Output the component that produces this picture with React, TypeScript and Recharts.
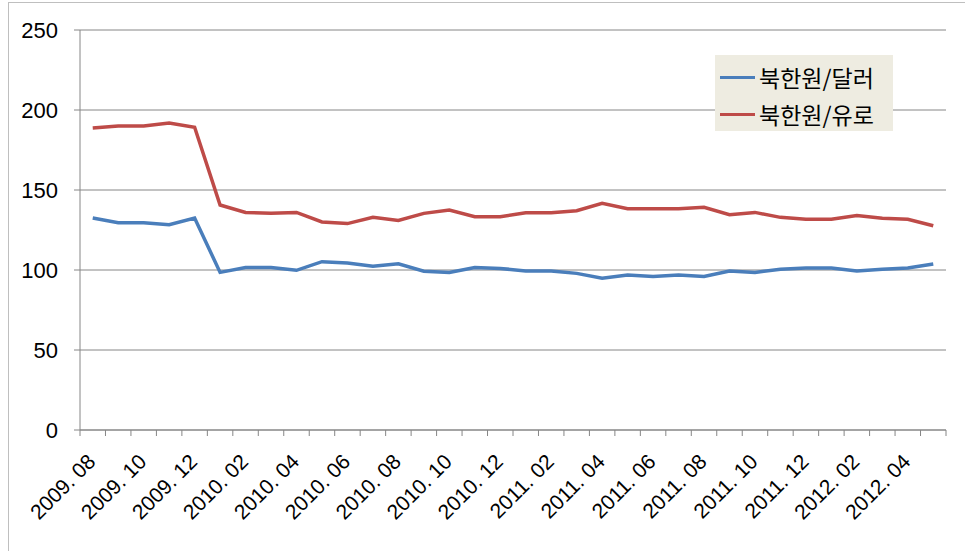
import React from 'react';
import { LineChart, Line, XAxis, YAxis, CartesianGrid, Legend } from 'recharts';

const months = [
  '2009. 08', '2009. 09', '2009. 10', '2009. 11', '2009. 12',
  '2010. 01', '2010. 02', '2010. 03', '2010. 04', '2010. 05', '2010. 06',
  '2010. 07', '2010. 08', '2010. 09', '2010. 10', '2010. 11', '2010. 12',
  '2011. 01', '2011. 02', '2011. 03', '2011. 04', '2011. 05', '2011. 06',
  '2011. 07', '2011. 08', '2011. 09', '2011. 10', '2011. 11', '2011. 12',
  '2012. 01', '2012. 02', '2012. 03', '2012. 04', '2012. 05',
];

const kpwUsd = [
  132.5, 129.6, 129.6, 128.3, 132.5, 98.5, 101.5, 101.5, 99.8, 105.2, 104.4,
  102.3, 103.9, 99.2, 98.5, 101.5, 101, 99.4, 99.4, 97.9, 94.8, 96.9, 96,
  96.9, 96, 99.4, 98.5, 100.4, 101.2, 101.2, 99.4, 100.4, 101.2, 103.7,
];

const kpwEur = [
  188.8, 190, 190, 191.9, 189.2, 140.6, 136, 135.4, 136, 130, 129, 133, 131,
  135.4, 137.5, 133.3, 133.3, 135.8, 135.8, 137, 141.7, 138.3, 138.3, 138.3,
  139.2, 134.6, 136, 132.9, 131.7, 131.7, 134, 132.3, 131.7, 127.7,
];

const yTicks = [0, 50, 100, 150, 200, 250];

const seriesNames = ['북한원/달러', '북한원/유로'];
const seriesColors = ['#4A7EBB', '#BE4B48'];

const data = months.map((m, i) => ({ month: m, usd: kpwUsd[i], eur: kpwEur[i] }));

const W = 965;
const H = 551;
const M = { top: 30, right: 19, bottom: 0, left: 0 };
const Y_W = 80;
const X_H = 121;
const FONT = '"Liberation Sans", Arial, sans-serif';

const fallbackHalf = (W - M.left - M.right - Y_W) / months.length / 2;

const XTick = (props: any) => {
  const { x, y, payload, index } = props;
  const off = payload && typeof payload.offset === 'number' && payload.offset > 0 ? payload.offset : fallbackHalf;
  const isLast = index === months.length - 1;
  const ax = x + 4;
  const ay = y + 33;
  return (
    <g>
      <line x1={x - off} x2={x - off} y1={y} y2={y + 6} stroke="#868686" strokeWidth={1} />
      {isLast && <line x1={x + off} x2={x + off} y1={y} y2={y + 6} stroke="#868686" strokeWidth={1} />}
      {index % 2 === 0 && (
        <text
          x={ax}
          y={ay}
          textAnchor="end"
          transform={`rotate(-45, ${ax}, ${ay})`}
          fontSize={21}
          fontFamily={FONT}
          fill="#000"
        >
          {payload.value}
        </text>
      )}
    </g>
  );
};

const LegendBox = () => (
  <div
    style={{
      background: '#EEECE1',
      width: 178,
      height: 76,
      boxSizing: 'border-box',
      paddingTop: 5,
      fontFamily: '"Noto Sans CJK KR", sans-serif',
      fontSize: 23,
      color: '#000',
      textAlign: 'left',
    }}
  >
    {seriesNames.map((n, i) => (
      <div key={n} style={{ display: 'flex', alignItems: 'center', height: 34, marginTop: i === 1 ? 3 : 0 }}>
        <div style={{ width: 35, height: 3, background: seriesColors[i], marginLeft: 5, marginRight: 4 }} />
        <span style={{ lineHeight: '34px', whiteSpace: 'nowrap' }}>{n}</span>
      </div>
    ))}
  </div>
);

export default function App() {
  return (
    <div style={{ position: 'absolute', left: 0, top: 0, width: W, height: H, background: '#fff', overflow: 'hidden' }}>
      <div
        style={{
          position: 'absolute',
          left: 8,
          top: 2,
          width: W,
          height: H,
          borderTop: '1px solid #BFBFBF',
          borderLeft: '1px solid #BFBFBF',
        }}
      />
      <LineChart width={W} height={H} data={data} margin={M} style={{ position: 'absolute', left: 0, top: 0 }}>
        <CartesianGrid vertical={false} stroke="#868686" strokeWidth={1} />
        <XAxis
          dataKey="month"
          scale="band"
          interval={0}
          height={X_H}
          tickLine={false}
          tickSize={0}
          tickMargin={0}
          axisLine={{ stroke: '#868686' }}
          tick={<XTick />}
        />
        <YAxis
          domain={[0, 250]}
          ticks={yTicks}
          width={Y_W}
          tickSize={6}
          tickMargin={16}
          axisLine={{ stroke: '#868686' }}
          tickLine={{ stroke: '#868686' }}
          tick={{ fontSize: 22, fontFamily: FONT, fill: '#000' }}
          interval={0}
        />
        <Legend
          layout="vertical"
          align="center"
          verticalAlign="middle"
          content={<LegendBox />}
          wrapperStyle={{ position: 'absolute', left: 715, top: 55, width: 178, height: 76 }}
        />
        <Line
          type="linear"
          dataKey="usd"
          name={seriesNames[0]}
          stroke={seriesColors[0]}
          strokeWidth={3.5}
          dot={false}
          isAnimationActive={false}
        />
        <Line
          type="linear"
          dataKey="eur"
          name={seriesNames[1]}
          stroke={seriesColors[1]}
          strokeWidth={3.5}
          dot={false}
          isAnimationActive={false}
        />
      </LineChart>
    </div>
  );
}
